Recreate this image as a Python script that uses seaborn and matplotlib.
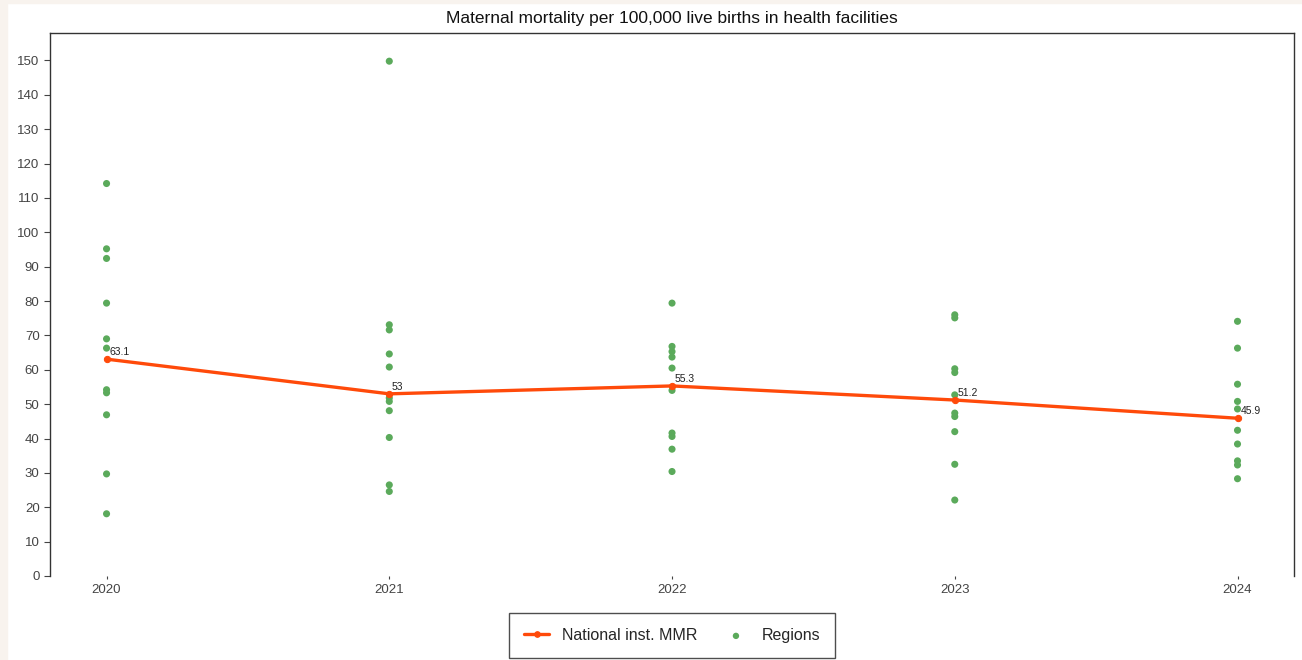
import pandas as pd
import seaborn as sns
import matplotlib.pyplot as plt
from matplotlib.patches import Rectangle

# National institutional MMR
years = [2020, 2021, 2022, 2023, 2024]
national_mmr = [63.1, 53.0, 55.3, 51.2, 45.9]
national_labels = ['63.1', '53', '55.3', '51.2', '45.9']

# Regional values read per year
regions_2020 = [114.2, 95.2, 92.4, 79.4, 69.0, 66.3, 54.2, 53.3, 46.9, 29.7, 18.1]
regions_2021 = [149.8, 73.1, 71.6, 64.6, 60.8, 51.8, 50.8, 48.1, 40.3, 26.5, 24.6]
regions_2022 = [79.4, 66.8, 65.3, 63.7, 60.5, 54.0, 41.6, 40.6, 36.9, 30.4]
regions_2023 = [76.0, 75.1, 60.3, 59.2, 52.7, 47.4, 46.4, 42.0, 32.5, 22.1]
regions_2024 = [74.1, 66.3, 55.8, 50.8, 48.6, 42.4, 38.4, 33.5, 32.3, 28.3]

regions = {2020: regions_2020, 2021: regions_2021, 2022: regions_2022,
           2023: regions_2023, 2024: regions_2024}
rows = [(yr, v) for yr, vals in regions.items() for v in vals]
df_reg = pd.DataFrame(rows, columns=['year', 'mmr'])
df_nat = pd.DataFrame({'year': years, 'mmr': national_mmr})

sns.set_style('white')
plt.rcParams['font.family'] = ['Liberation Sans', 'DejaVu Sans']

line_col = '#FF4A0A'
pt_col = '#5BAA5B'

fig = plt.figure(figsize=(13.02, 6.6), dpi=100)
ax = fig.add_axes([0.0384, 0.1273, 0.9555, 0.8227])

sns.scatterplot(data=df_reg, x='year', y='mmr', color=pt_col, s=26,
                edgecolor='none', ax=ax, zorder=2, label='Regions')
sns.lineplot(data=df_nat, x='year', y='mmr', color=line_col, linewidth=2.4,
             marker='o', markersize=4.5, markeredgecolor=line_col, ax=ax,
             zorder=3, label='National inst. MMR')

for x, y, t in zip(years, national_mmr, national_labels):
    ax.annotate(t, (x, y), xytext=(2, 3), textcoords='offset points',
                fontsize=7.5, color='#222222', zorder=4)

ax.set_xlim(2019.8, 2024.2)
ax.set_ylim(0, 158)
ax.set_xticks(years)
ax.set_xticklabels([str(y) for y in years])
ax.set_yticks(range(0, 151, 10))
ax.set_xlabel('')
ax.set_ylabel('')
ax.tick_params(axis='both', labelsize=9.5, colors='#444444', labelcolor='#444444')
ax.tick_params(axis='y', length=4, width=0.8, direction='out', left=True)
ax.tick_params(axis='x', length=2.5, width=0.8, direction='out', bottom=True, pad=3)

for side in ['left', 'top', 'right']:
    ax.spines[side].set_visible(True)
    ax.spines[side].set_color('#333333')
    ax.spines[side].set_linewidth(1.0)
ax.spines['bottom'].set_visible(False)

ax.set_title('Maternal mortality per 100,000 live births in health facilities',
             fontsize=12.5, color='#111111', pad=7)

handles, labels = ax.get_legend_handles_labels()
order = [labels.index('National inst. MMR'), labels.index('Regions')]
leg = ax.legend([handles[i] for i in order], [labels[i] for i in order],
                loc='upper center', bbox_to_anchor=(0.5, -0.068), ncol=2,
                frameon=True, fancybox=False, fontsize=11.5, handlelength=1.6,
                columnspacing=1.6, borderpad=0.95, borderaxespad=0,
                edgecolor='#222222', markerscale=0.9)
leg.get_frame().set_linewidth(1.0)

# faint beige border of the original image
fig.add_artist(Rectangle((0, 0), 0.005, 1, transform=fig.transFigure,
                         color='#f8f3ee', zorder=0))
fig.add_artist(Rectangle((0, 0.995), 1, 0.005, transform=fig.transFigure,
                         color='#f8f3ee', zorder=0))

fig.savefig('out.png', dpi=100)
